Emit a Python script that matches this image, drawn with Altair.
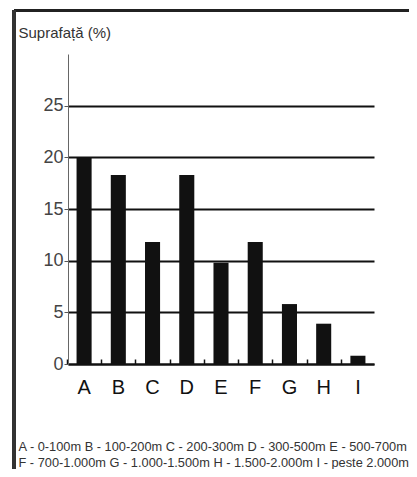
import altair as alt
import pandas as pd

categories = ["A", "B", "C", "D", "E", "F", "G", "H", "I"]
values = [20.0, 18.3, 11.8, 18.3, 9.8, 11.8, 5.8, 3.9, 0.8]
y_ticks = [0, 5, 10, 15, 20, 25]
legend_lines = [
    "A - 0-100m  B - 100-200m  C - 200-300m  D - 300-500m  E - 500-700m",
    "F - 700-1.000m  G - 1.000-1.500m  H - 1.500-2.000m  I - peste 2.000m",
]
y_title = "Suprafață (%)"

df = pd.DataFrame({"cat": categories, "val": values})
FONT = "Liberation Sans, Arial, sans-serif"

xscale = alt.Scale(paddingInner=0.56, paddingOuter=0.25)
yscale = alt.Scale(domain=[0, 30], nice=False)

y_axis = alt.Axis(values=y_ticks, grid=True, gridColor="#111111", gridWidth=2,
                  gridOpacity=1, domainColor="#666666", domainWidth=1,
                  tickSize=4, tickColor="#555555", labelFont=FONT,
                  labelFontSize=18, labelColor="#444444", labelPadding=1,
                  title=y_title, titleAngle=0, titleX=-50, titleY=-22,
                  titleAlign="left", titleBaseline="middle", titleFont=FONT,
                  titleFontSize=15, titleFontWeight="normal",
                  titleColor="#333333")

bars = alt.Chart(df).mark_bar(color="#111111").encode(
    x=alt.X("cat:N", sort=categories, scale=xscale,
            axis=alt.Axis(orient="bottom", title=legend_lines, labelAngle=0,
                          labelFont=FONT, labelFontSize=20, labelColor="#111111",
                          labelPadding=13, ticks=False, domainColor="#111111",
                          domainWidth=2, titleFont=FONT, titleFontSize=12.8,
                          titleFontWeight="normal", titleColor="#333333",
                          titleAnchor="start", titleAlign="left", titleBaseline="top",
                          titleX=-50, titleY=76, titleLineHeight=16)),
    y=alt.Y("val:Q", scale=yscale, axis=y_axis),
)

inner_ticks = alt.Chart(df).mark_bar(opacity=0).encode(
    x=alt.X("cat:N", sort=categories, scale=xscale,
            axis=alt.Axis(orient="top", offset=-310, labels=False, domain=False,
                          ticks=True, tickOffset=-17.1, tickSize=5,
                          tickColor="#111111", tickWidth=1.5, grid=False, title=None)),
    y=alt.Y("val:Q", scale=yscale, axis=y_axis),
)

frame_top = alt.Chart(df).mark_rule(color="#222222", strokeWidth=2.5).encode(
    x=alt.value(-54), x2=alt.value(345), y=alt.value(-43.5)
)
frame_left = alt.Chart(df).mark_rule(color="#333333", strokeWidth=3).encode(
    x=alt.value(-54), y=alt.value(-44), y2=alt.value(420)
)

chart = alt.layer(bars, inner_ticks, frame_top, frame_left).resolve_axis(
    x="independent"
).properties(
    width=306, height=310,
    autosize=alt.AutoSizeParams(type="none"),
    padding={"left": 60, "top": 46, "right": 35, "bottom": 105},
    background="white",
).configure_view(stroke=None)

chart.save("out.html", embed_options={"renderer": "svg", "actions": False})
